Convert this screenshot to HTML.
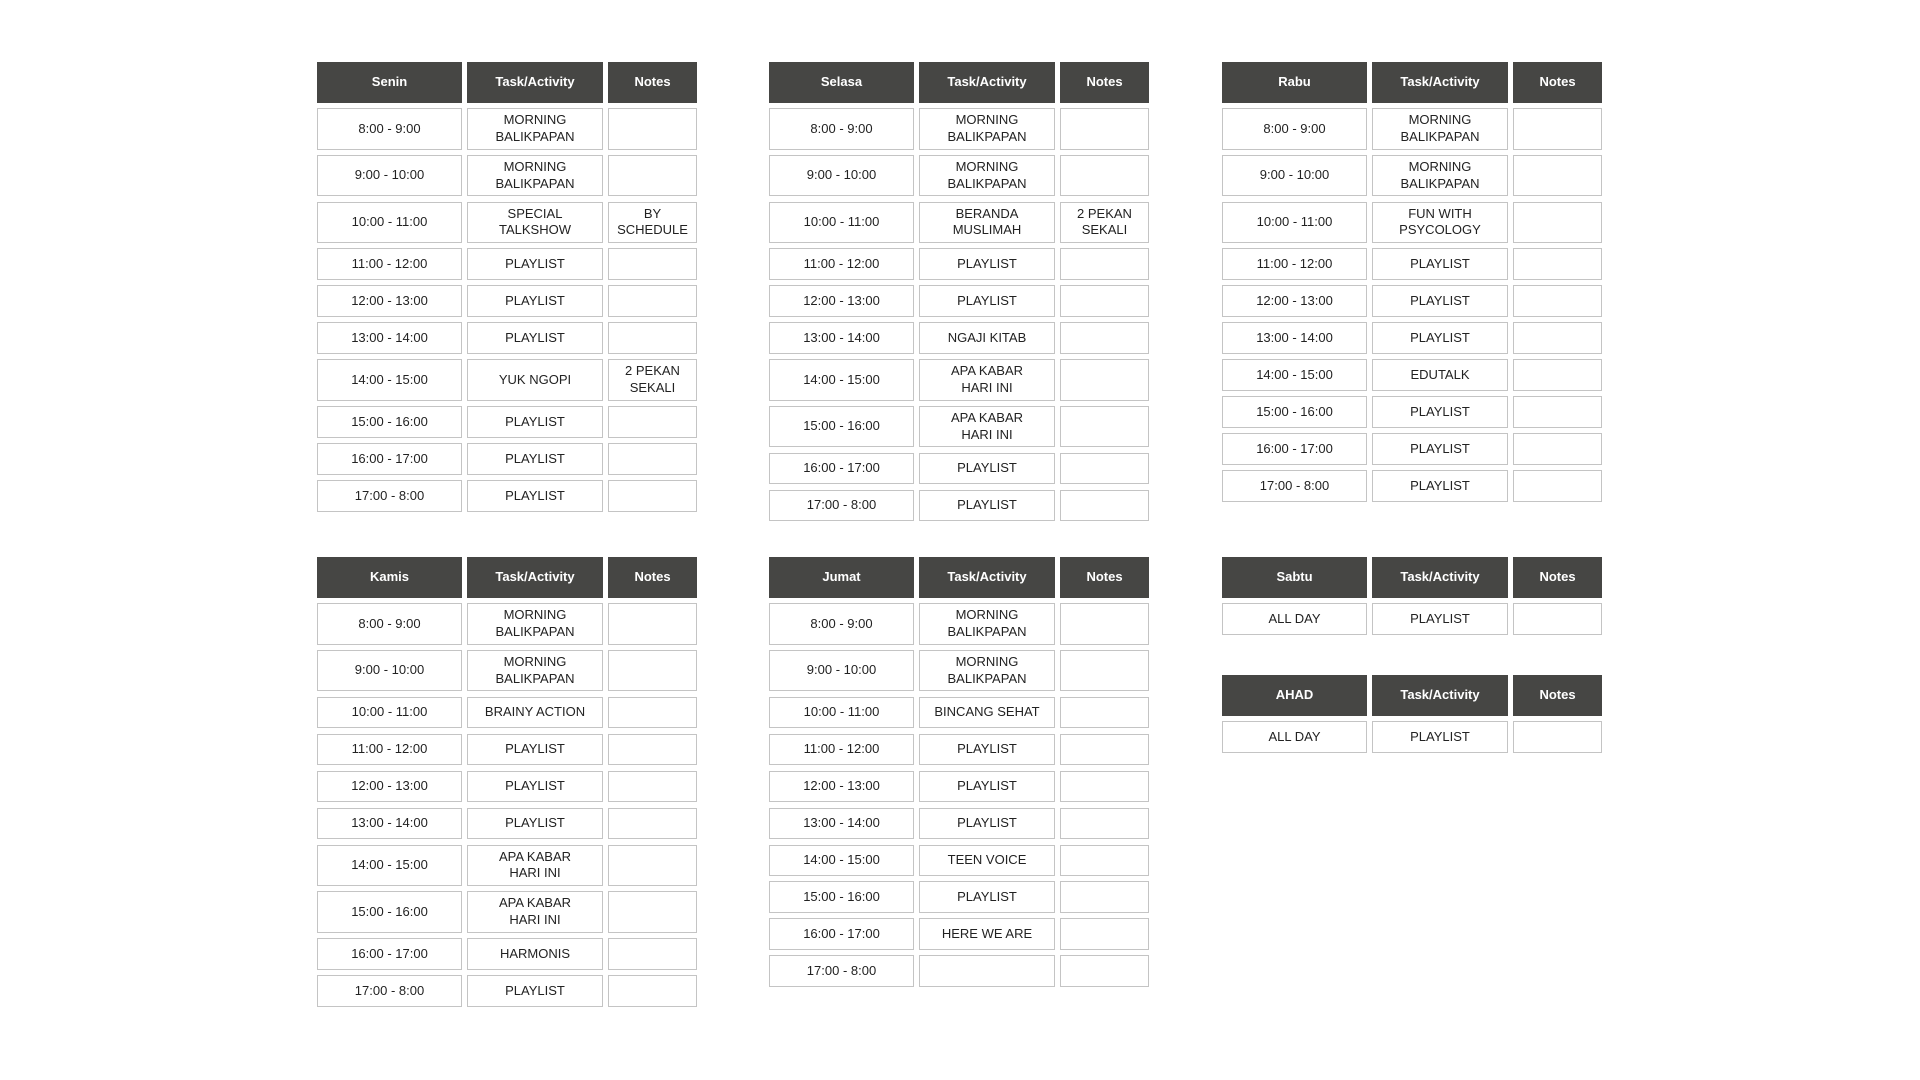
<!DOCTYPE html>
<html><head><meta charset="utf-8"><style>
body{margin:0;width:1920px;height:1080px;background:#fff;position:relative;overflow:hidden;font-family:"Liberation Sans",sans-serif;}
.t{position:absolute;width:380px;display:flex;flex-direction:column;gap:5.2px;}
.r{display:flex;gap:5px;}
.r>div{box-sizing:border-box;display:flex;align-items:center;justify-content:center;text-align:center;font-size:13px;line-height:16.5px;color:#222;border:1.5px solid #c4c4c4;background:#fff;}
.r>div:nth-child(1){width:145px}.r>div:nth-child(2){width:136px}.r>div:nth-child(3){width:89px}
.h>div{background:#464644;border-color:#464644;color:#fff;font-weight:bold;height:41px;}
.d>div{height:41.5px}.s>div{height:31.8px}
</style></head><body>

<div class="t" style="left:317px;top:62px">
<div class="r h"><div>Senin</div><div>Task/Activity</div><div>Notes</div></div>
<div class="r d"><div>8:00 - 9:00</div><div>MORNING<br>BALIKPAPAN</div><div></div></div>
<div class="r d"><div>9:00 - 10:00</div><div>MORNING<br>BALIKPAPAN</div><div></div></div>
<div class="r d"><div>10:00 - 11:00</div><div>SPECIAL<br>TALKSHOW</div><div>BY<br>SCHEDULE</div></div>
<div class="r s"><div>11:00 - 12:00</div><div>PLAYLIST</div><div></div></div>
<div class="r s"><div>12:00 - 13:00</div><div>PLAYLIST</div><div></div></div>
<div class="r s"><div>13:00 - 14:00</div><div>PLAYLIST</div><div></div></div>
<div class="r d"><div>14:00 - 15:00</div><div>YUK NGOPI</div><div>2 PEKAN<br>SEKALI</div></div>
<div class="r s"><div>15:00 - 16:00</div><div>PLAYLIST</div><div></div></div>
<div class="r s"><div>16:00 - 17:00</div><div>PLAYLIST</div><div></div></div>
<div class="r s"><div>17:00 - 8:00</div><div>PLAYLIST</div><div></div></div>
</div>

<div class="t" style="left:769px;top:62px">
<div class="r h"><div>Selasa</div><div>Task/Activity</div><div>Notes</div></div>
<div class="r d"><div>8:00 - 9:00</div><div>MORNING<br>BALIKPAPAN</div><div></div></div>
<div class="r d"><div>9:00 - 10:00</div><div>MORNING<br>BALIKPAPAN</div><div></div></div>
<div class="r d"><div>10:00 - 11:00</div><div>BERANDA<br>MUSLIMAH</div><div>2 PEKAN<br>SEKALI</div></div>
<div class="r s"><div>11:00 - 12:00</div><div>PLAYLIST</div><div></div></div>
<div class="r s"><div>12:00 - 13:00</div><div>PLAYLIST</div><div></div></div>
<div class="r s"><div>13:00 - 14:00</div><div>NGAJI KITAB</div><div></div></div>
<div class="r d"><div>14:00 - 15:00</div><div>APA KABAR<br>HARI INI</div><div></div></div>
<div class="r d"><div>15:00 - 16:00</div><div>APA KABAR<br>HARI INI</div><div></div></div>
<div class="r s"><div>16:00 - 17:00</div><div>PLAYLIST</div><div></div></div>
<div class="r s"><div>17:00 - 8:00</div><div>PLAYLIST</div><div></div></div>
</div>

<div class="t" style="left:1222px;top:62px">
<div class="r h"><div>Rabu</div><div>Task/Activity</div><div>Notes</div></div>
<div class="r d"><div>8:00 - 9:00</div><div>MORNING<br>BALIKPAPAN</div><div></div></div>
<div class="r d"><div>9:00 - 10:00</div><div>MORNING<br>BALIKPAPAN</div><div></div></div>
<div class="r d"><div>10:00 - 11:00</div><div>FUN WITH<br>PSYCOLOGY</div><div></div></div>
<div class="r s"><div>11:00 - 12:00</div><div>PLAYLIST</div><div></div></div>
<div class="r s"><div>12:00 - 13:00</div><div>PLAYLIST</div><div></div></div>
<div class="r s"><div>13:00 - 14:00</div><div>PLAYLIST</div><div></div></div>
<div class="r s"><div>14:00 - 15:00</div><div>EDUTALK</div><div></div></div>
<div class="r s"><div>15:00 - 16:00</div><div>PLAYLIST</div><div></div></div>
<div class="r s"><div>16:00 - 17:00</div><div>PLAYLIST</div><div></div></div>
<div class="r s"><div>17:00 - 8:00</div><div>PLAYLIST</div><div></div></div>
</div>

<div class="t" style="left:317px;top:557px">
<div class="r h"><div>Kamis</div><div>Task/Activity</div><div>Notes</div></div>
<div class="r d"><div>8:00 - 9:00</div><div>MORNING<br>BALIKPAPAN</div><div></div></div>
<div class="r d"><div>9:00 - 10:00</div><div>MORNING<br>BALIKPAPAN</div><div></div></div>
<div class="r s"><div>10:00 - 11:00</div><div>BRAINY ACTION</div><div></div></div>
<div class="r s"><div>11:00 - 12:00</div><div>PLAYLIST</div><div></div></div>
<div class="r s"><div>12:00 - 13:00</div><div>PLAYLIST</div><div></div></div>
<div class="r s"><div>13:00 - 14:00</div><div>PLAYLIST</div><div></div></div>
<div class="r d"><div>14:00 - 15:00</div><div>APA KABAR<br>HARI INI</div><div></div></div>
<div class="r d"><div>15:00 - 16:00</div><div>APA KABAR<br>HARI INI</div><div></div></div>
<div class="r s"><div>16:00 - 17:00</div><div>HARMONIS</div><div></div></div>
<div class="r s"><div>17:00 - 8:00</div><div>PLAYLIST</div><div></div></div>
</div>

<div class="t" style="left:769px;top:557px">
<div class="r h"><div>Jumat</div><div>Task/Activity</div><div>Notes</div></div>
<div class="r d"><div>8:00 - 9:00</div><div>MORNING<br>BALIKPAPAN</div><div></div></div>
<div class="r d"><div>9:00 - 10:00</div><div>MORNING<br>BALIKPAPAN</div><div></div></div>
<div class="r s"><div>10:00 - 11:00</div><div>BINCANG SEHAT</div><div></div></div>
<div class="r s"><div>11:00 - 12:00</div><div>PLAYLIST</div><div></div></div>
<div class="r s"><div>12:00 - 13:00</div><div>PLAYLIST</div><div></div></div>
<div class="r s"><div>13:00 - 14:00</div><div>PLAYLIST</div><div></div></div>
<div class="r s"><div>14:00 - 15:00</div><div>TEEN VOICE</div><div></div></div>
<div class="r s"><div>15:00 - 16:00</div><div>PLAYLIST</div><div></div></div>
<div class="r s"><div>16:00 - 17:00</div><div>HERE WE ARE</div><div></div></div>
<div class="r s"><div>17:00 - 8:00</div><div></div><div></div></div>
</div>

<div class="t" style="left:1222px;top:557px">
<div class="r h"><div>Sabtu</div><div>Task/Activity</div><div>Notes</div></div>
<div class="r s"><div>ALL DAY</div><div>PLAYLIST</div><div></div></div>
</div>

<div class="t" style="left:1222px;top:675px">
<div class="r h"><div>AHAD</div><div>Task/Activity</div><div>Notes</div></div>
<div class="r s"><div>ALL DAY</div><div>PLAYLIST</div><div></div></div>
</div>

</body></html>
